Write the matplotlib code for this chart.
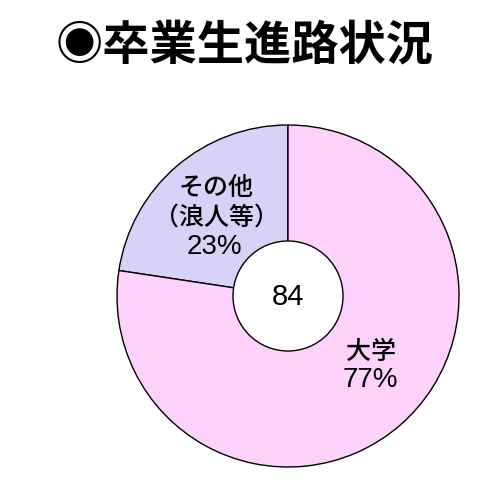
import matplotlib
matplotlib.use("Agg")
import matplotlib.pyplot as plt
from matplotlib.patches import Circle

plt.rcParams['font.family'] = ['Liberation Sans', 'Noto Sans CJK JP', 'DejaVu Sans']

title = "◉卒業生進路状況"
categories = ["その他\n（浪人等）", "大学"]
counts = [19, 65]
percent_labels = ["23%", "77%"]
total_label = "84"
colors = ["#D8D2F8", "#FFD2FE"]

fig = plt.figure(figsize=(4.9, 5.0), dpi=100)
ax = fig.add_axes([0, 0, 1, 1])
ax.set_xlim(0, 490)
ax.set_ylim(0, 500)
ax.set_aspect('equal')
ax.axis('off')

cx, cy, R = 288, 204, 171
ax.pie(counts, colors=colors, startangle=90, counterclock=True,
       center=(cx, cy), radius=R,
       wedgeprops=dict(edgecolor='black', linewidth=1.0))
ax.set_xlim(0, 490)
ax.set_ylim(0, 500)
ax.add_patch(Circle((cx, cy), 55, facecolor='white', edgecolor='black', linewidth=1.0, zorder=5))
ax.text(cx, cy - 1, total_label, ha='center', va='center', fontsize=21, zorder=6)

cat_offsets = [(-72, 93), (83, -56)]
pct_offsets = [(-74, 49), (82, -84)]
for cat, pct, (dx, dy), (px, py) in zip(categories, percent_labels, cat_offsets, pct_offsets):
    ax.text(cx + dx, cy + dy, cat, ha='center', va='center',
            fontsize=18, linespacing=1.3, zorder=6, fontweight='medium')
    ax.text(cx + px, cy + py, pct, ha='center', va='center',
            fontsize=20, zorder=6)

fig.text(245 / 490, 1 - 46 / 500, title, ha='center', va='center',
         fontsize=34, fontweight='bold', family=['Noto Sans CJK JP', 'DejaVu Sans'])

fig.savefig("out.png", dpi=100)
